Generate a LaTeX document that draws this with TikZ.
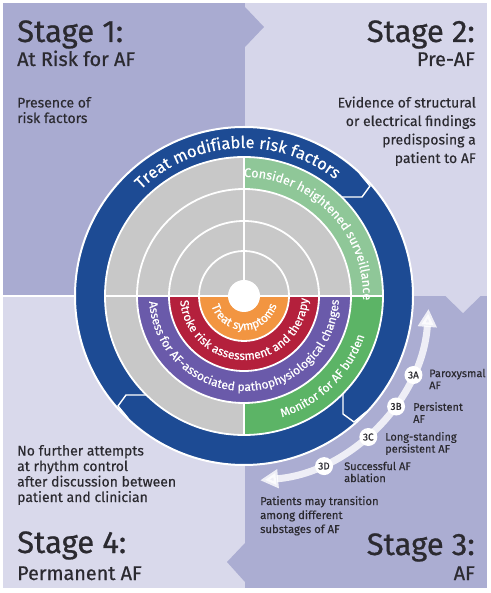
\documentclass[tikz,border=0pt]{standalone}
\usepackage{fontspec}
\setmainfont{Fira Sans}[FakeBold=0.3]
\newfontfamily\headfont{Fira Sans}[FakeBold=0.7]
\newfontfamily\ringff{Fira Sans}[FakeBold=0.4]
\usetikzlibrary{arrows.meta,decorations.text}
\definecolor{stA}{HTML}{A9ABD1}
\definecolor{stB}{HTML}{D6D6EA}
\definecolor{stC}{HTML}{ABADD2}
\definecolor{stD}{HTML}{D9D9EB}
\definecolor{ringblue}{HTML}{1D4B94}
\definecolor{ringgray}{HTML}{C8C8C8}
\definecolor{lgreen}{HTML}{8FC798}
\definecolor{dgreen}{HTML}{5CB466}
\definecolor{rpurple}{HTML}{6A5AAA}
\definecolor{rred}{HTML}{B4203C}
\definecolor{rorange}{HTML}{F29541}
\definecolor{ink}{HTML}{2B2A30}
\newcommand{\ringfont}{\ringff\fontsize{12}{13}\selectfont}
\begin{document}
\begin{tikzpicture}[x=1pt,y=1pt,
  stagehead/.style={font=\headfont\fontsize{31}{33}\selectfont, text=ink, inner sep=0pt},
  stagesub/.style={font=\headfont\fontsize{19.8}{22}\selectfont, text=ink, inner sep=0pt},
  desc/.style={font=\fontsize{14}{15.5}\selectfont, text=ink, inner sep=0pt},
  sublabel/.style={font=\fontsize{11}{12}\selectfont, text=ink, inner sep=0pt, align=left, anchor=west},
  subdot/.style={circle, fill=white, minimum size=18pt, inner sep=0pt, font=\fontsize{10}{10}\selectfont, text=ink},
  sepline/.style={white, line width=1.8pt},
  seam/.style={white, line width=1.4pt, line join=miter},
  ringtext/.style={decorate, decoration={text along path, text align=center, text color=white}}
]
\useasboundingbox (-244,296) rectangle (246,-297);
\fill[white] (-244,296) rectangle (246,-297);
% quadrants
\fill[stA] (-241,293) rectangle (1,0);
\fill[stB] (1,293) rectangle (243,0);
\fill[stC] (1,0) rectangle (243,-292);
\fill[stD] (-241,0) rectangle (1,-292);
% chevrons
\fill[stA] (1,289) -- (20,269) -- (1,249) -- cycle;
\fill[stB] (201,0.5) -- (219,-17) -- (237,0.5) -- cycle;
\fill[stC] (1,-247) -- (-17,-266) -- (1,-286) -- cycle;
\draw[sepline] (-241,0) -- (-160,0);
% rings
\fill[ringblue] (0,0) circle (169);
\draw[white, line width=2pt] (0,0) circle (169);
\fill[ringgray] (0,0) circle (139);
\fill[lgreen] (0,0) -- (0,139) arc[start angle=90,end angle=0,radius=139] -- cycle;
\fill[dgreen] (0,0) -- (139,0) arc[start angle=0,end angle=-90,radius=139] -- cycle;
\fill[ringgray] (0,0) circle (107);
\fill[rpurple] (-107,0) arc[start angle=180,end angle=360,radius=107] -- cycle;
\fill[rred] (-75,0) arc[start angle=180,end angle=360,radius=75] -- cycle;
\fill[rorange] (-45,0) arc[start angle=180,end angle=360,radius=45] -- cycle;
\fill[white] (0,0) circle (16);
\foreach \r in {45,75,107,139} \draw[sepline] (0,0) circle (\r);
\draw[sepline] (-139,0) -- (139,0);
\draw[sepline] (0,16) -- (0,139);
\draw[sepline] (0,-107) -- (0,-139);
% seams in blue ring (arrow points)
\draw[seam] (116,122) -- (126,110) -- (118,99) -- (97.6,99);
\draw[seam] (122,-116) -- (110,-126) -- (99,-118) -- (99,-97.6);
\draw[seam] (-116,-122) -- (-126,-110) -- (-118,-99) -- (-97.6,-99);
% ring texts
\path[ringtext, decoration={text={|\ringff\fontsize{16.5}{18}\selectfont|Treat modifiable risk factors}}]
  (183:148) arc[start angle=183, end angle=3, radius=148];
\path[ringtext, decoration={text={|\ringff\fontsize{12.6}{13}\selectfont|Consider heightened surveillance}}]
  (134:119) arc[start angle=134, end angle=-46, radius=119];
\path[ringtext, decoration={text={|\ringfont|Monitor for AF burden}}]
  (-135.5:127) arc[start angle=-135.5, end angle=44.5, radius=127];
\path[ringtext, decoration={text={|\ringfont|Assess for AF-associated pathophysiological changes}}]
  (-179.5:95) arc[start angle=-179.5, end angle=0.5, radius=95];
\path[ringtext, decoration={text={|\ringfont|Stroke risk assessment and therapy}}]
  (-179:64) arc[start angle=-179, end angle=1, radius=64];
\path[ringtext, decoration={text={|\ringfont|Treat symptoms}}]
  (-179.5:34) arc[start angle=-179.5, end angle=0.5, radius=34];
% stage texts (base anchor = last line)
\node[stagehead, anchor=base west] (s1) at (-227,254) {Stage 1:};
\node[stagesub, anchor=base west] (s1b) at (-227,230) {At Risk for AF};
\node[desc, anchor=base west, align=left] (s1c) at (-227,173) {Presence of\\risk factors};
\node[stagehead, anchor=base east] (s2) at (231,254) {Stage 2:};
\node[stagesub, anchor=base east] (s2b) at (231,230) {Pre-AF};
\node[desc, anchor=base east, align=right, font=\fontsize{14}{18.5}\selectfont] (s2c) at (232,133) {Evidence of structural\\or electrical findings\\predisposing a\\patient to AF};
\node[desc, anchor=base west, align=left] (s4c) at (-227,-206) {No further attempts\\at rhythm control\\after discussion between\\patient and clinician};
\node[stagehead, anchor=base west] (s4) at (-227,-257) {Stage 4:};
\node[stagesub, anchor=base west] (s4b) at (-227,-284) {Permanent AF};
\node[stagehead, anchor=base east] (s3) at (231,-259) {Stage 3:};
\node[stagesub, anchor=base east] (s3b) at (231,-284) {AF};
\node[desc, anchor=base west, align=left, font=\fontsize{11.3}{14}\selectfont] (s3c) at (16,-237) {Patients may transition\\among different\\substages of AF};
% substage arrow
\draw[white, opacity=0.8, line width=7pt, {Triangle[width=18pt,length=18pt]}-{Triangle[width=18pt,length=18pt]}]
  (-85:185) arc[start angle=-85, end angle=-4, radius=185];
\node[subdot] (a) at (-25:187) {3A};
\node[subdot] (b) at (-36:188) {3B};
\node[subdot] (c) at (-48.6:188) {3C};
\node[subdot] (d) at (-64.8:188) {3D};
\node[sublabel] (la) at (185,-83) {Paroxysmal\\AF};
\node[sublabel] (lb) at (169,-116.5) {Persistent\\AF};
\node[sublabel] (lc) at (141,-147.5) {Long-standing\\persistent AF};
\node[sublabel] (ld) at (100,-176) {Successful AF\\ablation};
\end{tikzpicture}
\end{document}
